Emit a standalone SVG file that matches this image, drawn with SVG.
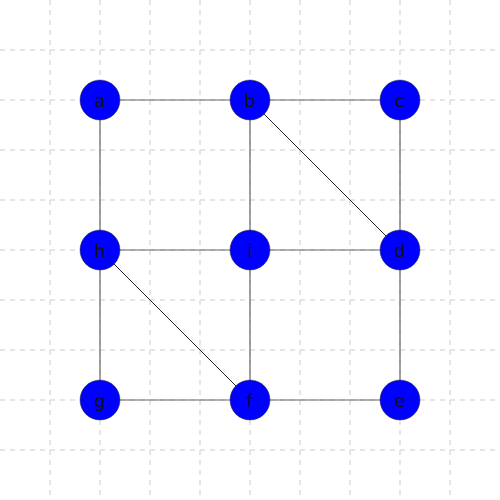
<svg xmlns="http://www.w3.org/2000/svg" width="500" height="500" viewBox="0 0 500 500">
<style>
.grid line{stroke:#dddddd;stroke-width:1.5;stroke-dasharray:5,5}
.edge{stroke:#666666;stroke-width:1.2}
.diag{stroke:#222222;stroke-width:1}
.node circle{fill:#0000ff;stroke:#333333;stroke-width:0.5}
.node text{font-family:"DejaVu Sans",sans-serif;font-size:18px;fill:#111111;text-anchor:middle;dominant-baseline:central}
</style>
<rect width="500" height="500" fill="#ffffff"/>
<g class="grid">
<line x1="50" y1="0" x2="50" y2="500"/><line x1="100" y1="0" x2="100" y2="500"/><line x1="150" y1="0" x2="150" y2="500"/><line x1="200" y1="0" x2="200" y2="500"/><line x1="250" y1="0" x2="250" y2="500"/><line x1="300" y1="0" x2="300" y2="500"/><line x1="350" y1="0" x2="350" y2="500"/><line x1="400" y1="0" x2="400" y2="500"/><line x1="450" y1="0" x2="450" y2="500"/>
<line x1="0" y1="50" x2="500" y2="50"/><line x1="0" y1="100" x2="500" y2="100"/><line x1="0" y1="150" x2="500" y2="150"/><line x1="0" y1="200" x2="500" y2="200"/><line x1="0" y1="250" x2="500" y2="250"/><line x1="0" y1="300" x2="500" y2="300"/><line x1="0" y1="350" x2="500" y2="350"/><line x1="0" y1="400" x2="500" y2="400"/><line x1="0" y1="450" x2="500" y2="450"/>
</g>
<g id="connectors">
<line class="edge" x1="100" y1="100" x2="250" y2="100"/>
<line class="edge" x1="250" y1="100" x2="400" y2="100"/>
<line class="edge" x1="100" y1="100" x2="100" y2="250"/>
<line class="edge" x1="250" y1="100" x2="250" y2="250"/>
<line class="edge" x1="400" y1="100" x2="400" y2="250"/>
<line class="diag" x1="250" y1="100" x2="400" y2="250"/>
<line class="edge" x1="100" y1="250" x2="250" y2="250"/>
<line class="edge" x1="250" y1="250" x2="400" y2="250"/>
<line class="edge" x1="100" y1="250" x2="100" y2="400"/>
<line class="diag" x1="100" y1="250" x2="250" y2="400"/>
<line class="edge" x1="250" y1="250" x2="250" y2="400"/>
<line class="edge" x1="400" y1="250" x2="400" y2="400"/>
<line class="edge" x1="100" y1="400" x2="250" y2="400"/>
<line class="edge" x1="250" y1="400" x2="400" y2="400"/>
</g>
<g id="a" class="node"><circle cx="100" cy="100" r="20"/><text x="100" y="100">a</text></g>
<g id="b" class="node"><circle cx="250" cy="100" r="20"/><text x="250" y="100">b</text></g>
<g id="c" class="node"><circle cx="400" cy="100" r="20"/><text x="400" y="100">c</text></g>
<g id="h" class="node"><circle cx="100" cy="250" r="20"/><text x="100" y="250">h</text></g>
<g id="i" class="node"><circle cx="250" cy="250" r="20"/><text x="250" y="250">i</text></g>
<g id="d" class="node"><circle cx="400" cy="250" r="20"/><text x="400" y="250">d</text></g>
<g id="g" class="node"><circle cx="100" cy="400" r="20"/><text x="100" y="400">g</text></g>
<g id="f" class="node"><circle cx="250" cy="400" r="20"/><text x="250" y="400">f</text></g>
<g id="e" class="node"><circle cx="400" cy="400" r="20"/><text x="400" y="400">e</text></g>
</svg>
